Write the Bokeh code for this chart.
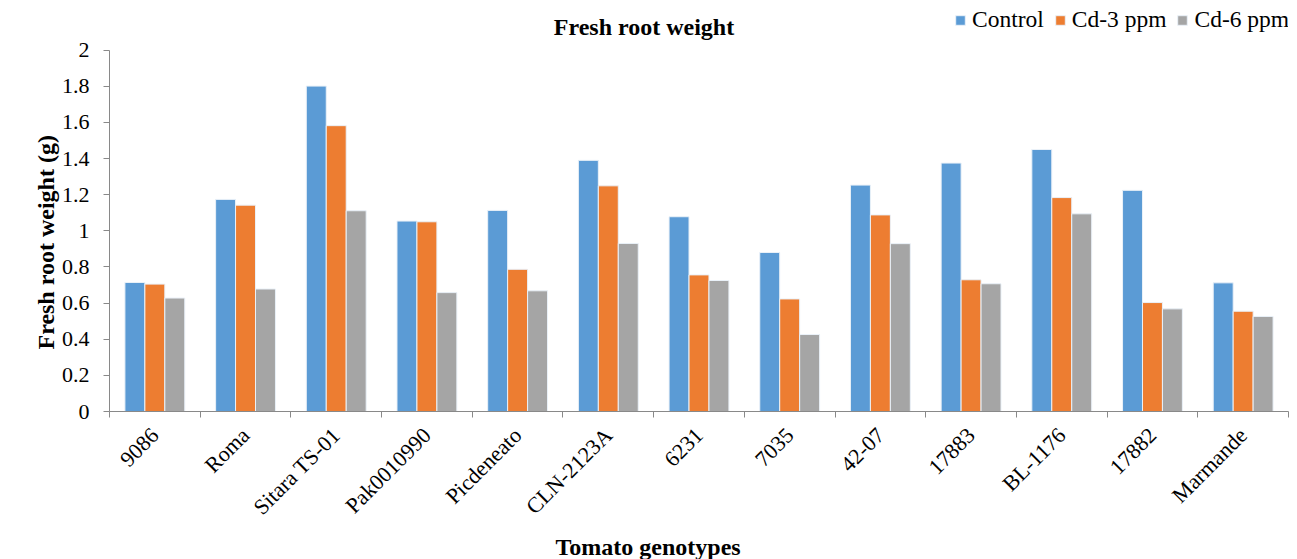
import math
from bokeh.plotting import figure
from bokeh.models import (ColumnDataSource, FixedTicker, NumeralTickFormatter,
                          Legend, LegendItem, Range1d, Label, Title)
from bokeh.transform import dodge
from bokeh.embed import file_html
from bokeh.resources import INLINE

# Fresh root weight (g) of tomato genotypes under cadmium stress
genotypes = ["9086", "Roma", "Sitara TS-01", "Pak0010990", "Picdeneato",
             "CLN-2123A", "6231", "7035", "42-07", "17883", "BL-1176",
             "17882", "Marmande"]
control = [0.714, 1.174, 1.801, 1.054, 1.113, 1.390, 1.078, 0.880, 1.253,
           1.375, 1.450, 1.224, 0.712]
cd3 = [0.705, 1.142, 1.582, 1.050, 0.787, 1.249, 0.756, 0.623, 1.088,
       0.729, 1.184, 0.603, 0.555]
cd6 = [0.628, 0.678, 1.111, 0.658, 0.668, 0.930, 0.725, 0.426, 0.929,
       0.707, 1.094, 0.568, 0.526]
series_names = ["Control", "Cd-3 ppm", "Cd-6 ppm"]
y_ticks = [0, 0.2, 0.4, 0.6, 0.8, 1.0, 1.2, 1.4, 1.6, 1.8, 2.0]
y_max = 2.0

colors = ["#5B9BD5", "#ED7D31", "#A5A5A5"]
FONT = "Liberation Serif"
AXIS_GREY = "#898989"

# The frame runs to the top of the figure; the headroom above y_max holds
# the title and the legend, and the axis line stops at y_max.
FRAME_H = 414
AXIS_H = 364
y_top = y_max * FRAME_H / AXIS_H
title_y = y_max * (FRAME_H - 27) / AXIS_H
n = len(genotypes)
cat_px = 1179 / n
title_x = (643.5 - 109) / cat_px

centers = [i + 0.5 for i in range(n)]
src = ColumnDataSource(dict(x=centers, control=control, cd3=cd3, cd6=cd6))

p = figure(width=1297, height=559, output_backend="svg", toolbar_location=None,
           x_range=Range1d(0, n), y_range=Range1d(0, y_top),
           min_border_left=109, min_border_right=9, min_border_top=0,
           min_border_bottom=145)

bw = 0.22
renderers = []
for field, off, col in zip(["control", "cd3", "cd6"], [-bw, 0, bw], colors):
    r = p.vbar(x=dodge("x", off, range=p.x_range), top=field, width=bw,
               source=src, fill_color=col, line_color="#EAF1F8", line_width=1)
    renderers.append(r)

title = Label(x=title_x, y=title_y,
              text="Fresh root weight", text_align="center",
              text_baseline="middle", text_font=FONT, text_font_size="24px",
              text_font_style="bold", text_color="black")
p.add_layout(title)

legend = Legend(items=[LegendItem(label=s, renderers=[r])
                       for s, r in zip(series_names, renderers)],
                orientation="horizontal", location=(845, 378),
                label_text_font=FONT, label_text_font_size="23.5px",
                label_text_color="black",
                glyph_width=12, glyph_height=12, spacing=10,
                label_standoff=6, padding=0, margin=0,
                background_fill_alpha=0, border_line_color=None)
p.add_layout(legend, "center")

# axis titles, placed as side titles so they can be shifted along the axis
x_title = Title(text="Tomato genotypes", align="left", offset=446,
                standoff=0, text_font=FONT, text_font_size="24px",
                text_font_style="bold", text_color="black")
p.add_layout(x_title, "below")
y_title = Title(text="Fresh root weight (g)", align="left", offset=62,
                standoff=0, text_font=FONT, text_font_size="24px",
                text_font_style="bold", text_color="black")
p.add_layout(y_title, "left")

# x axis: labels at group centres, ticks at group boundaries
xa = p.xaxis[0]
xa.ticker = FixedTicker(ticks=centers, minor_ticks=list(range(n + 1)))
xa.major_label_overrides = {c: g for c, g in zip(centers, genotypes)}
xa.major_label_orientation = math.pi / 4
xa.major_tick_out = 0
xa.major_tick_in = 0
xa.minor_tick_out = 6
xa.minor_tick_in = 0
xa.minor_tick_line_color = AXIS_GREY
xa.axis_line_color = AXIS_GREY
xa.major_label_text_font = FONT
xa.major_label_text_font_size = "22px"
xa.major_label_text_color = "black"
xa.major_label_standoff = 14

ya = p.yaxis[0]
ya.ticker = FixedTicker(ticks=y_ticks)
ya.bounds = (0, y_max)
ya.formatter = NumeralTickFormatter(format="0.[0]")
ya.major_tick_out = 6
ya.major_tick_in = 0
ya.minor_tick_line_color = None
ya.major_tick_line_color = AXIS_GREY
ya.axis_line_color = AXIS_GREY
ya.major_label_text_font = FONT
ya.major_label_text_font_size = "22px"
ya.major_label_text_color = "black"
ya.major_label_standoff = 14

p.xgrid.grid_line_color = None
p.ygrid.grid_line_color = None
p.outline_line_color = None

open("out.html", "w").write(file_html(p, INLINE))
